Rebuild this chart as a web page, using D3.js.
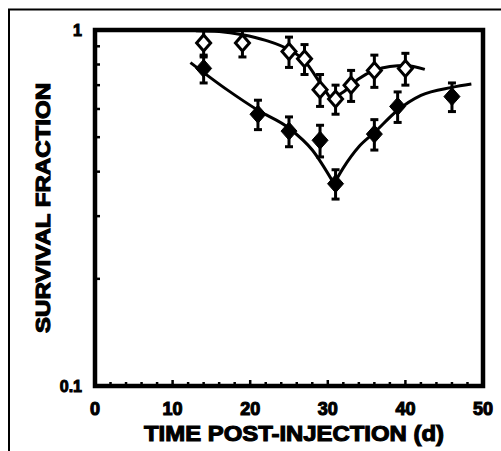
<!DOCTYPE html>
<html>
<head>
<meta charset="utf-8">
<script src="https://cdn.jsdelivr.net/npm/d3@7"></script>
<style>
  body { margin: 0; background: #fff; }
  svg text { font-family: "Liberation Sans", Arial, sans-serif; font-weight: bold; fill: #000; }
</style>
</head>
<body>
<svg id="svg" width="501" height="451"></svg>
<script>
// open diamonds (upper series)
var openDays = [14, 19, 25, 27, 29, 31, 33, 36, 40];
var openSurv = [0.92, 0.92, 0.87, 0.83, 0.68, 0.64, 0.70, 0.77, 0.78];
var openErr  = [0.08, 0.08, 0.085, 0.08, 0.07, 0.06, 0.07, 0.08, 0.08];

// filled diamonds (lower series)
var fillDays = [14, 21, 25, 29, 31, 36, 39, 46];
var fillSurv = [0.78, 0.58, 0.52, 0.49, 0.37, 0.51, 0.61, 0.65];
var fillErr  = [0.07, 0.055, 0.05, 0.05, 0.035, 0.05, 0.06, 0.06];

// fitted curves
var openFitDays = [13, 16, 19, 22, 25, 27, 29, 30.4, 32, 34, 36, 38, 40, 42.5];
var openFitSurv = [0.995, 0.99, 0.97, 0.935, 0.88, 0.82, 0.71, 0.64, 0.67, 0.73, 0.77, 0.79, 0.795, 0.775];
var fillFitDays = [12.3, 17, 21, 25, 28, 30.8, 32, 34, 36, 39, 42, 46, 48.5];
var fillFitSurv = [0.81, 0.68, 0.595, 0.53, 0.46, 0.37, 0.41, 0.47, 0.515, 0.595, 0.655, 0.69, 0.705];

var xTicks = [0, 10, 20, 30, 40, 50];
var yLabels = [1, 0.1];
var yMinor = [0.2, 0.3, 0.4, 0.5, 0.6, 0.7, 0.8, 0.9];

var svg = d3.select('svg');

var x = d3.scaleLinear().domain([0, 50]).range([95, 483]);
var y = d3.scaleLog().domain([0.1, 1]).range([386, 30]);

// outer figure frame (top and left only)
svg.append('path')
    .attr('d', 'M9,451 L9,9.5 L501,9.5')
    .attr('fill', 'none')
    .attr('stroke', '#000')
    .attr('stroke-width', 2);

// x minor/major ticks (inward)
var xMinor = d3.range(2, 50, 2);
svg.selectAll('.xminor')
    .data(xMinor)
    .enter()
    .append('line')
    .attr('x1', function(d){ return x(d); })
    .attr('x2', function(d){ return x(d); })
    .attr('y1', y(0.1))
    .attr('y2', function(d){ return y(0.1) - (d % 10 === 0 ? 6 : 4); })
    .attr('stroke', '#000')
    .attr('stroke-width', 2.5);

// y minor ticks
svg.selectAll('.yminor')
    .data(yMinor)
    .enter()
    .append('line')
    .attr('x1', x(0))
    .attr('x2', x(0) + 5)
    .attr('y1', function(d){ return y(d); })
    .attr('y2', function(d){ return y(d); })
    .attr('stroke', '#000')
    .attr('stroke-width', 2.5);

// plot frame
svg.append('rect')
    .attr('x', x(0))
    .attr('y', y(1))
    .attr('width', x(50) - x(0))
    .attr('height', y(0.1) - y(1))
    .attr('fill', 'none')
    .attr('stroke', '#000')
    .attr('stroke-width', 4.5);

// tick labels
svg.selectAll('.xlab')
    .data(xTicks)
    .enter()
    .append('text')
    .text(function(d){ return d; })
    .attr('x', function(d){ return x(d); })
    .attr('y', 415)
    .attr('text-anchor', 'middle')
    .attr('font-size', 18)
    .attr('stroke', '#000')
    .attr('stroke-width', 1.1);

svg.selectAll('.ylab')
    .data(yLabels)
    .enter()
    .append('text')
    .text(function(d){ return d; })
    .attr('x', 82)
    .attr('y', function(d){ return y(d) + 6; })
    .attr('text-anchor', 'end')
    .attr('font-size', 16)
    .attr('stroke', '#000')
    .attr('stroke-width', 1);

// axis titles
svg.append('text')
    .text('TIME POST-INJECTION (d)')
    .attr('x', 294)
    .attr('y', 441)
    .attr('text-anchor', 'middle')
    .attr('font-size', 22)
    .attr('textLength', 300)
    .attr('lengthAdjust', 'spacingAndGlyphs')
    .attr('stroke', '#000')
    .attr('stroke-width', 1.1);

svg.append('text')
    .text('SURVIVAL FRACTION')
    .attr('transform', 'translate(50,208) rotate(-90)')
    .attr('text-anchor', 'middle')
    .attr('font-size', 21)
    .attr('textLength', 250)
    .attr('lengthAdjust', 'spacingAndGlyphs')
    .attr('stroke', '#000')
    .attr('stroke-width', 1.1);

// fitted curves, split at the minimum so the V stays pointed
function drawFit(days, surv){
    var pts = days.map(function(d, i){ return [x(d), y(surv[i])]; });
    var iMin = d3.minIndex(surv);
    var line = d3.line().curve(d3.curveMonotoneX);
    [pts.slice(0, iMin + 1), pts.slice(iMin)].forEach(function(seg){
        svg.append('path')
            .attr('d', line(seg))
            .attr('fill', 'none')
            .attr('stroke', '#000')
            .attr('stroke-width', 3);
    });
}
drawFit(openFitDays, openFitSurv);
drawFit(fillFitDays, fillFitSurv);

// error bars + diamonds
function drawSeries(days, surv, err, filled){
    var g = svg.append('g');
    days.forEach(function(d, i){
        var cx = x(d), top = y(Math.min(surv[i] + err[i], 1)), bot = y(surv[i] - err[i]);
        g.append('line')
            .attr('x1', cx).attr('x2', cx)
            .attr('y1', top).attr('y2', bot)
            .attr('stroke', '#000').attr('stroke-width', 3);
        [top, bot].forEach(function(yy){
            g.append('line')
                .attr('x1', cx - 4).attr('x2', cx + 4)
                .attr('y1', yy).attr('y2', yy)
                .attr('stroke', '#000').attr('stroke-width', 3);
        });
    });
    g.selectAll('path')
        .data(days)
        .enter()
        .append('path')
        .attr('d', function(d, i){
            var cx = x(d), cy = y(surv[i]);
            var w = filled ? 8 : 7, h = filled ? 9 : 8;
            return 'M' + cx + ',' + (cy - h) + 'L' + (cx + w) + ',' + cy +
                   'L' + cx + ',' + (cy + h) + 'L' + (cx - w) + ',' + cy + 'Z';
        })
        .attr('fill', filled ? '#000' : '#fff')
        .attr('stroke', '#000')
        .attr('stroke-width', filled ? 1 : 3);
}
drawSeries(openDays, openSurv, openErr, false);
drawSeries(fillDays, fillSurv, fillErr, true);
</script>
</body>
</html>
